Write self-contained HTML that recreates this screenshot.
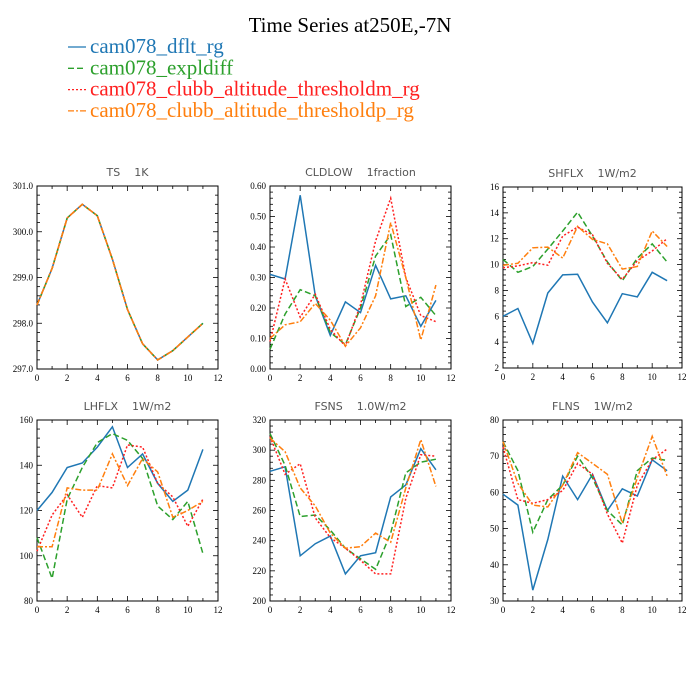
<!DOCTYPE html>
<html><head><meta charset="utf-8"><style>
body{margin:0;background:#fff;}
svg{display:block;}
</style></head><body>
<svg id="chart" width="700" height="700" viewBox="0 0 700 700">
<text x="350" y="32" text-anchor="middle" font-family="Liberation Serif, serif" font-size="21">Time Series at250E,-7N</text>
<g id="legend"></g>
<g id="panels"></g>
</svg>
<script>
const months = [0,1,2,3,4,5,6,7,8,9,10,11];
const seriesNames = ["cam078_dflt_rg","cam078_expldiff","cam078_clubb_altitude_thresholdm_rg","cam078_clubb_altitude_thresholdp_rg"];
const xTicks = [0,2,4,6,8,10,12];

const tsDflt = [298.4,299.2,300.3,300.6,300.35,299.4,298.3,297.55,297.2,297.4,297.7,298.0];
const tsExpl = [298.4,299.2,300.3,300.6,300.35,299.4,298.3,297.55,297.2,297.4,297.7,298.0];
const tsM = [298.4,299.2,300.3,300.6,300.35,299.4,298.3,297.55,297.2,297.4,297.7,298.0];
const tsP = [298.4,299.2,300.3,300.6,300.35,299.4,298.3,297.55,297.2,297.4,297.7,298.0];
const tsTicks = ["297.0","298.0","299.0","300.0","301.0"];

const cldDflt = [0.31,0.295,0.57,0.24,0.11,0.22,0.185,0.34,0.23,0.24,0.14,0.225];
const cldExpl = [0.065,0.18,0.26,0.24,0.12,0.08,0.20,0.37,0.44,0.205,0.235,0.175];
const cldM = [0.09,0.295,0.17,0.245,0.13,0.075,0.21,0.42,0.56,0.30,0.175,0.155];
const cldP = [0.10,0.145,0.155,0.215,0.16,0.075,0.135,0.24,0.48,0.30,0.095,0.275];
const cldTicks = ["0.00","0.10","0.20","0.30","0.40","0.50","0.60"];

const shDflt = [6.0,6.6,3.9,7.8,9.2,9.25,7.1,5.5,7.75,7.5,9.4,8.75];
const shExpl = [10.4,9.4,9.85,11.2,12.6,14.05,12.2,10.2,8.75,10.5,11.6,10.2];
const shM = [9.75,9.9,10.15,9.95,12.2,12.9,12.3,10.1,8.85,10.3,11.05,12.0];
const shP = [9.95,10.1,11.3,11.35,10.5,12.95,11.95,11.6,9.65,9.85,12.6,11.4];
const shTicks = ["2","4","6","8","10","12","14","16"];

const lhDflt = [120,128,139,141,148,157,139,145,132,124,129,147];
const lhExpl = [108,90,125,139,150,154,151,143,122,116,124,101];
const lhM = [102,118,127,117,131,130,149,148,132,126,113,125];
const lhP = [104,104,130,129,129,145,131,143,137,117,120,124];
const lhTicks = ["80","100","120","140","160"];

const fsDflt = [286,289,230,238,243,218,230,232,269,277,301,287];
const fsExpl = [311,290,256,257,247,235,228,221,245,285,292,294];
const fsM = [309,284,291,255,242,235,227,218,218,268,297,296];
const fsP = [308,299,275,263,245,235,236,245,239,275,307,276];
const fsTicks = ["200","220","240","260","280","300","320"];

const flDflt = [59.5,56.5,33,47,64.5,58,65,55,61,59,69,66];
const flExpl = [74,66,49,58,62,70,64,55,51,66,69.5,68.8];
const flM = [72.5,58,57,58,60.5,68,65,54,46,62,69,72];
const flP = [74,62.5,56.5,56,62,71,68,65,51.5,64,75.5,64.5];
const flTicks = ["30","40","50","60","70","80"];

const colors = ["#1f77b4","#2ca02c","#ff2020","#ff7f0e"];
const dashes = ["", "6,3", "2,2", "6,2,2,2"];
const NS = "http://www.w3.org/2000/svg";
function mk(tag, attrs, parent){const e=document.createElementNS(NS,tag);for(const k in attrs)e.setAttribute(k,attrs[k]);parent.appendChild(e);return e;}

const leg = document.getElementById('legend');
seriesNames.forEach((n,i)=>{
  const y = 47 + i*21.3;
  const l = mk('line',{x1:68,x2:86,y1:y,y2:y,stroke:colors[i],'stroke-width':1.3,'stroke-dasharray':dashes[i]},leg);
  
  
  const t = mk('text',{x:90,y:y+6,fill:colors[i],'font-family':'Liberation Serif, serif','font-size':21},leg);
  t.textContent = n;
  
  
});

const panels = [
 {title:"TS    1K", name:"ts", x0:37,x1:218,y0:186,y1:369, ticks:tsTicks, series:[tsDflt,tsExpl,tsM,tsP]},
 {title:"CLDLOW    1fraction", name:"cldlow", x0:270,x1:451,y0:186,y1:369, ticks:cldTicks, series:[cldDflt,cldExpl,cldM,cldP]},
 {title:"SHFLX    1W/m2", name:"shflx", x0:503,x1:682,y0:187,y1:368, ticks:shTicks, series:[shDflt,shExpl,shM,shP]},
 {title:"LHFLX    1W/m2", name:"lhflx", x0:37,x1:218,y0:420,y1:601, ticks:lhTicks, series:[lhDflt,lhExpl,lhM,lhP]},
 {title:"FSNS    1.0W/m2", name:"fsns", x0:270,x1:451,y0:420,y1:601, ticks:fsTicks, series:[fsDflt,fsExpl,fsM,fsP]},
 {title:"FLNS    1W/m2", name:"flns", x0:503,x1:682,y0:420,y1:601, ticks:flTicks, series:[flDflt,flExpl,flM,flP]},
];
const pg = document.getElementById('panels');
panels.forEach(p=>{
  const g = mk('g',{},pg);
  
  
  const ymin = parseFloat(p.ticks[0]), ymax = parseFloat(p.ticks[p.ticks.length-1]);
  const sx = v => p.x0 + (v-0)/(12-0)*(p.x1-p.x0);
  const sy = v => p.y1 - (v-ymin)/(ymax-ymin)*(p.y1-p.y0);
  const t = mk('text',{x:(p.x0+p.x1)/2,y:p.y0-10,'text-anchor':'middle','font-family':'DejaVu Sans, sans-serif','font-size':11,fill:'#555',style:'white-space:pre'},g);
  t.textContent = p.title;
  
  
  const fr = mk('rect',{x:p.x0,y:p.y0,width:p.x1-p.x0,height:p.y1-p.y0,fill:'none',stroke:'#000','stroke-width':1},g);
  
  
  for(let v=0; v<=12; v++){
    const major = v%2===0, L = major?5:3;
    mk('line',{x1:sx(v),x2:sx(v),y1:p.y1,y2:p.y1-L,stroke:'#000','stroke-width':0.8},g);
    mk('line',{x1:sx(v),x2:sx(v),y1:p.y0,y2:p.y0+L,stroke:'#000','stroke-width':0.8},g);
  }
  xTicks.forEach(v=>{
    const tx = mk('text',{x:sx(v),y:p.y1+12,'text-anchor':'middle','font-family':'Liberation Serif, serif','font-size':9},g);
    tx.textContent = v;
    
    
  });
  const n = p.ticks.length-1, step=(ymax-ymin)/n;
  for(let i=0;i<=n*5;i++){
    const v = ymin + i*step/5, major = i%5===0, L = major?5:3;
    mk('line',{x1:p.x0,x2:p.x0+L,y1:sy(v),y2:sy(v),stroke:'#000','stroke-width':0.8},g);
    mk('line',{x1:p.x1,x2:p.x1-L,y1:sy(v),y2:sy(v),stroke:'#000','stroke-width':0.8},g);
  }
  p.ticks.forEach(lbl=>{
    const ty = mk('text',{x:p.x0-4,y:sy(parseFloat(lbl))+3,'text-anchor':'end','font-family':'Liberation Serif, serif','font-size':9},g);
    ty.textContent = lbl;
    
    
  });
  p.series.forEach((s,i)=>{
    const d = s.map((v,k)=>(k?'L':'M')+sx(months[k]).toFixed(1)+','+sy(v).toFixed(1)).join(' ');
    const path = mk('path',{d:d,fill:'none',stroke:colors[i],'stroke-width':1.5,'stroke-dasharray':dashes[i]},g);
    
    
  });
});
</script>
</body></html>
